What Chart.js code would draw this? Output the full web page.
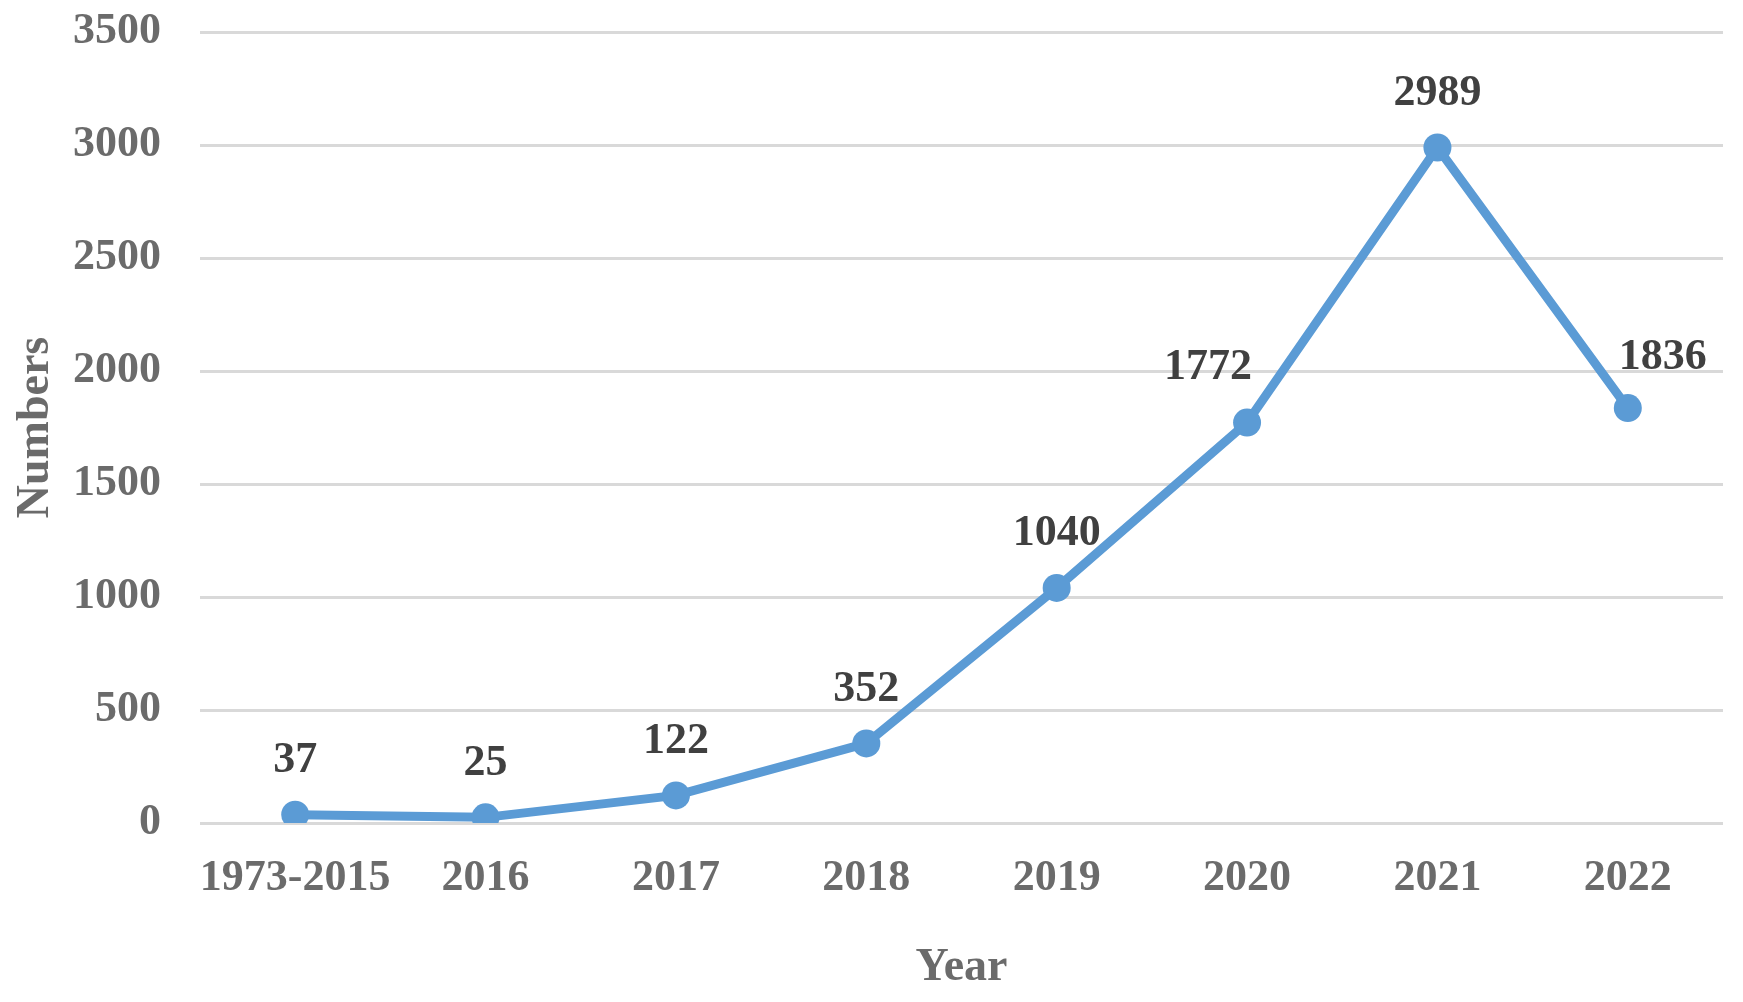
<!DOCTYPE html>
<html>
<head>
<meta charset="utf-8">
<script src="https://cdn.jsdelivr.net/npm/chart.js@4.4.1/dist/chart.umd.min.js"></script>
<style>
  html, body { margin: 0; padding: 0; background: #ffffff; }
  #wrap { width: 1743px; height: 1002px; }
</style>
</head>
<body>
<div id="wrap"><canvas id="chart" width="1743" height="1002"></canvas></div>
<script>
// categories and values
const years = ["1973-2015", "2016", "2017", "2018", "2019", "2020", "2021", "2022"];
const numbers = [37, 25, 122, 352, 1040, 1772, 2989, 1836];
const yTicks = [0, 500, 1000, 1500, 2000, 2500, 3000, 3500];

const font = "'Liberation Serif', 'Times New Roman', serif";

// value labels above the points, a few shifted sideways like the original
const labelShift = { 5: [-39, -55], 7: [35, -50] };

const valueLabels = {
  id: "valueLabels",
  afterDatasetsDraw(chart) {
    const ctx = chart.ctx;
    const meta = chart.getDatasetMeta(0);
    ctx.save();
    ctx.font = "bold 44px " + font;
    ctx.fillStyle = "#404040";
    ctx.textAlign = "center";
    ctx.textBaseline = "middle";
    meta.data.forEach((pt, i) => {
      const s = labelShift[i] || [0, -54];
      ctx.fillText(String(numbers[i]), pt.x + s[0], pt.y + s[1]);
    });
    ctx.restore();
  },
};

new Chart(document.getElementById("chart"), {
  type: "line",
  data: {
    labels: years,
    datasets: [
      {
        label: "Numbers",
        data: numbers,
        borderColor: "#5B9BD5",
        backgroundColor: "#5B9BD5",
        borderWidth: 9,
        pointRadius: 14,
        pointHoverRadius: 14,
        pointBorderWidth: 0,
        tension: 0,
      },
    ],
  },
  options: {
    responsive: false,
    animation: false,
    layout: { autoPadding: false, padding: { top: 32, right: 20, left: 0, bottom: 0 } },
    plugins: {
      legend: { display: false },
      tooltip: { enabled: false },
    },
    scales: {
      x: {
        offset: true,
        grid: { display: false },
        border: { display: false },
        ticks: {
          color: "#6b6b6b",
          padding: 21,
          maxRotation: 0,
          autoSkip: false,
          font: { family: font, size: 44, weight: "bold" },
        },
        title: {
          display: true,
          text: "Year",
          color: "#6b6b6b",
          padding: { top: 10, bottom: 6 },
          font: { family: font, size: 46, weight: "bold" },
        },
        afterFit(scale) {
          scale.height = 179;
          scale.paddingLeft = 0;
          scale.paddingRight = 0;
        },
      },
      y: {
        min: 0,
        max: 3500,
        afterBuildTicks(scale) {
          scale.ticks = yTicks.map((v) => ({ value: v }));
        },
        grid: { color: "#d9d9d9", lineWidth: 3, drawTicks: false },
        border: { display: false },
        ticks: {
          color: "#6b6b6b",
          padding: 39,
          font: { family: font, size: 44, weight: "bold" },
          callback: (v) => String(v),
        },
        title: {
          display: true,
          text: "Numbers",
          color: "#6b6b6b",
          padding: { top: 9, bottom: 0 },
          font: { family: font, size: 46, weight: "bold" },
        },
        afterFit(scale) {
          scale.width = 200;
          scale.paddingTop = 0;
          scale.paddingBottom = 0;
        },
      },
    },
  },
  plugins: [valueLabels],
});
</script>
</body>
</html>
